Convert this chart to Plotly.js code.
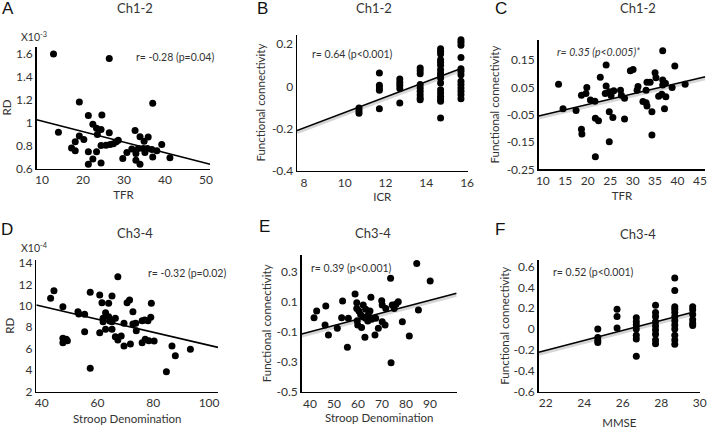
<!DOCTYPE html>
<html><head><meta charset="utf-8">
<script src="https://cdn.plot.ly/plotly-3.0.1.min.js"></script>
<style>html,body{margin:0;padding:0;background:#fff}#chart{width:709px;height:429px}</style>
</head><body><div id="chart"></div>
<script>
// ---------- Panel A : RD (x10^-3) vs TFR ----------
const aTFR = [12.8,26.4,37.0,19.1,14.0,21.3,24.6,22.4,23.3,24.4,23.5,26.4,19.1,20.2,18.1,17.2,18.1,21.3,23.3,22.4,21.3,24.4,24.4,25.6,26.6,27.4,28.1,28.6,29.7,30.7,31.9,32.7,32.9,32.9,33.9,33.9,34.9,35.9,33.5,34.7,35.7,36.8,38.0,39.2,37.0,41.2,35.1];
const aRD  = [1.60,1.56,1.17,1.18,0.916,1.062,1.068,0.986,0.951,0.94,0.898,0.913,0.883,0.854,0.834,0.78,0.755,0.746,0.746,0.682,0.638,0.647,0.80,0.804,0.81,0.817,0.834,0.846,0.688,0.74,0.77,0.933,0.732,0.673,0.878,0.638,0.839,0.875,0.775,0.775,0.775,0.767,0.755,0.81,0.70,0.694,0.74];
const aFitX = [8.7, 51.0];
const aFitY = [1.026, 0.638];
const aXTicks = [10,20,30,40,50];
const aYTicks = [0.6,0.8,1,1.2,1.4,1.6];
const aYTickText = ['0.6','0.8','1','1.2','1.4','1.6'];

// ---------- Panel B : Functional connectivity vs ICR ----------
const bICR = [10.7,10.7,10.7, 11.7,11.7,11.7,11.7,11.7, 12.7,12.7,12.7,12.7,12.7,
  13.7,13.7,13.7,13.7,13.7,13.7,13.7,13.7,13.7,
  14.7,14.7,14.7,14.7,14.7,14.7,14.7,14.7,14.7,14.7,14.7,14.7,14.7,14.7,14.7,14.7,14.7,
  15.7,15.7,15.7,15.7,15.7,15.7,15.7,15.7,15.7,15.7,15.7,15.7,15.7];
const bFC = [-0.103,-0.116,-0.128, 0.063,0.005,-0.008,-0.019,-0.106, 0.035,0.019,0.005,-0.011,-0.079,
  0.087,0.074,0.06,0.008,-0.008,-0.024,-0.04,-0.055,-0.064,
  0.178,0.166,0.153,0.126,0.114,0.1,0.079,0.063,0.052,0.039,0.016,-0.016,-0.032,-0.047,-0.06,-0.071,-0.15,
  0.221,0.209,0.194,0.137,0.083,0.071,0.055,0.024,0.008,-0.008,-0.024,-0.04,-0.059];
const bFitX = [7.66, 15.67];
const bFitY = [-0.21, 0.083];
const bXTicks = [8,10,12,14,16];
const bYTicks = [-0.4,-0.2,0,0.2];
const bYTickText = ['-0.4','-0.2','0','0.2'];

// ---------- Panel C : Functional connectivity vs TFR ----------
const cTFR = [13.5,14.5,17.4,18.6,18.7,18.6,19.8,19.6,20.6,21.6,21.7,22.4,21.7,22.8,24.1,24.1,23.9,24.8,25.2,24.8,24.8,25.6,25.8,27.3,27.5,28.2,28.2,29.5,30.1,31.2,31.0,32.3,33.0,33.2,33.0,33.2,33.9,34.3,34.3,35.0,35.2,36.7,36.7,36.7,35.8,36.5,37.3,37.4,37.1,38.8,39.4,41.7];
const cFC  = [0.062,-0.028,-0.035,-0.103,-0.121,0.021,0.05,0.028,0.004,-0.001,-0.063,-0.072,-0.204,0.087,0.132,0.055,0.028,0.034,0.02,-0.039,-0.149,-0.06,0.038,0.04,0.021,0.01,-0.066,0.111,0.116,0.053,0.04,-0.002,-0.006,-0.018,0.04,0.069,0.069,-0.039,-0.124,0.104,0.085,0.184,0.077,0.059,0.018,0.025,0.065,0.016,-0.028,0.05,0.128,0.062];
const cFitX = [9.08, 46.2];
const cFitY = [-0.055, 0.089];
const cXTicks = [10,15,20,25,30,35,40,45];
const cYTicks = [-0.25,-0.15,-0.05,0.05,0.15];
const cYTickText = ['-0.25','-0.15','-0.05','0.05','0.15'];

// ---------- Panel D : RD (x10^-4) vs Stroop Denomination ----------
const dSD = [43.2,44.4,47.6,47.6,47.6,48.8,49.2,53.0,53.3,55.4,55.4,57.4,57.4,60.8,60.8,61.6,62.0,62.0,62.9,62.9,64.0,64.0,64.4,65.2,65.2,65.2,66.4,66.4,67.3,67.3,68.5,69.5,69.5,70.6,71.5,71.8,72.7,72.7,73.7,73.9,76.0,76.0,76.9,77.1,78.1,78.4,79.1,79.3,80.3,84.7,86.7,87.9,93.3];
const dRD = [10.69,11.4,9.91,6.96,6.55,6.87,6.74,9.44,9.23,9.2,7.58,11.25,4.16,11.0,7.49,10.28,8.83,8.51,9.35,7.8,10.23,8.98,8.58,10.9,8.51,7.8,8.83,7.11,12.7,6.8,7.18,8.36,6.24,10.28,10.54,6.43,9.44,8.3,8.36,7.67,8.6,6.55,8.67,6.87,8.6,6.74,8.92,10.23,6.71,3.85,6.24,5.34,5.94];
const dFitX = [38.07, 103.2];
const dFitY = [10.07, 6.12];
const dXTicks = [40,60,80,100];
const dYTicks = [2,4,6,8,10,12,14];

// ---------- Panel E : Functional connectivity vs Stroop Denomination ----------
const eSD = [41.7,42.8,46.6,46.3,47.7,51.4,53.2,53.6,55.6,56.0,58.8,59.5,59.5,59.7,59.9,60.4,61.1,61.5,62.0,62.2,62.9,63.2,63.2,64.1,64.3,65.0,65.4,65.7,67.1,67.4,68.5,69.9,70.1,70.1,71.3,71.6,73.6,73.8,74.3,75.1,75.9,76.8,78.5,81.4,84.5,85.2,90.1];
const eFC = [-0.005,0.039,0.073,-0.054,-0.121,-0.076,-0.005,0.106,-0.203,-0.009,0.153,0.095,0.057,-0.025,-0.054,0.039,0.017,-0.07,0.001,0.08,-0.136,0.051,-0.009,-0.027,0.013,0.039,0.131,-0.016,-0.121,-0.009,-0.076,0.108,0.08,-0.032,-0.054,0.057,0.258,-0.306,0.08,0.057,0.086,0.102,-0.032,-0.128,0.358,0.046,0.24];
const eFitX = [36.56, 101.1];
const eFitY = [-0.114, 0.158];
const eXTicks = [40,50,60,70,80,90];
const eYTicks = [-0.5,-0.3,-0.1,0.1,0.3];
const eYTickText = ['-0.5','-0.3','-0.1','0.1','0.3'];

// ---------- Panel F : Functional connectivity vs MMSE ----------
const fMMSE = [24.7,24.7,24.7,24.7, 25.7,25.7,25.7, 26.7,26.7,26.7,26.7,26.7,26.7,26.7,
  27.7,27.7,27.7,27.7,27.7,27.7,27.7,27.7,27.7,
  28.7,28.7,28.7,28.7,28.7,28.7,28.7,28.7,28.7,28.7,28.7,28.7,
  29.63,29.63,29.63,29.63,29.63,29.63];
const fFC = [0.0,-0.08,-0.11,-0.13, 0.19,0.12,0.01, 0.11,0.07,0.04,0.0,-0.06,-0.095,-0.26,
  0.23,0.16,0.12,0.07,0.03,-0.01,-0.05,-0.105,-0.14,
  0.49,0.37,0.215,0.19,0.16,0.12,0.08,0.04,0.0,-0.06,-0.105,-0.145,
  0.215,0.185,0.14,0.09,0.055,0.035];
const fFitX = [21.63, 29.63];
const fFitY = [-0.223, 0.162];
const fXTicks = [22,24,26,28,30];
const fYTicks = [-0.6,-0.4,-0.2,0,0.2,0.4,0.6];
const fYTickText = ['-0.6','-0.4','-0.2','0','0.2','0.4','0.6'];

// ---------- layout helpers ----------
const W = 709, H = 429;
const FONT = 'Lato, "Open Sans", sans-serif';
const TXT = '#333333';

const panels = [
  {x:aTFR, y:aRD, fx:aFitX, fy:aFitY, box:[36.7,210.1,46.7,168.5], xr:[8.7,51.0], yr:[0.6,1.664],
   xt:aXTicks, yt:aYTicks, ytt:aYTickText, xtitle:'TFR', ytitle:'RD', shadow:false, xs:4, ys:4},
  {x:bICR, y:bFC, fx:bFitX, fy:bFitY, box:[297,467.5,34.6,170.7], xr:[7.66,16.02], yr:[-0.4,0.245],
   xt:bXTicks, yt:bYTicks, ytt:bYTickText, xtitle:'ICR', ytitle:'Functional connectivity', shadow:true, xs:4, ys:4},
  {x:cTFR, y:cFC, fx:cFitX, fy:cFitY, box:[538.7,705.3,39.9,169.3], xr:[9.08,46.19], yr:[-0.25,0.224],
   xt:cXTicks, yt:cYTicks, ytt:cYTickText, xtitle:'TFR', ytitle:'Functional connectivity', shadow:true, xs:4, ys:4},
  {x:dSD, y:dRD, fx:dFitX, fy:dFitY, box:[36.3,218.3,260,391.5], xr:[38.07,103.3], yr:[2,14.27],
   xt:dXTicks, yt:dYTicks, ytt:null, xtitle:'Stroop Denomination', ytitle:'RD', shadow:false, xs:5, ys:1},
  {x:eSD, y:eFC, fx:eFitX, fy:eFitY, box:[301.7,456.7,255,391.7], xr:[36.56,101.15], yr:[-0.5,0.414],
   xt:eXTicks, yt:eYTicks, ytt:eYTickText, xtitle:'Stroop Denomination', ytitle:'Functional connectivity', shadow:true, xs:3, ys:2},
  {x:fMMSE, y:fFC, fx:fFitX, fy:fFitY, box:[538.7,700,260,391.5], xr:[21.63,30.01], yr:[-0.6,0.664],
   xt:fXTicks, yt:fYTicks, ytt:fYTickText, xtitle:'MMSE', ytitle:'Functional connectivity', shadow:true, xs:10, ys:1}
];

const traces = [];
const layout = {
  width: W, height: H, margin: {l:0, r:0, t:0, b:0}, autosize: false,
  paper_bgcolor: '#ffffff', plot_bgcolor: 'rgba(0,0,0,0)',
  showlegend: false, font: {family: FONT, color: TXT, size: 12},
  annotations: []
};

panels.forEach((p, i) => {
  const n = i === 0 ? '' : String(i + 1);
  const xa = 'x' + n, ya = 'y' + n;
  const [l, r, t, b] = p.box;
  layout['xaxis' + n] = {
    domain: [l / W, r / W], range: p.xr, anchor: ya,
    showline: true, linecolor: '#000', linewidth: 1.5, showgrid: false, zeroline: false,
    ticks: '', tickmode: 'array', tickvals: p.xt, ticklabeloverflow: 'allow',
    tickfont: {family: FONT, size: 12, color: TXT},
    title: {text: p.xtitle, font: {family: FONT, size: 11.5, color: TXT}, standoff: p.xs},
    fixedrange: true, automargin: false
  };
  const yax = {
    domain: [1 - b / H, 1 - t / H], range: p.yr, anchor: xa,
    showline: true, linecolor: '#000', linewidth: 1.5, showgrid: false, zeroline: false,
    ticks: '', tickmode: 'array', tickvals: p.yt, ticklabeloverflow: 'allow',
    tickfont: {family: FONT, size: 12, color: TXT},
    title: {text: p.ytitle, font: {family: FONT, size: 11.5, color: TXT}, standoff: p.ys},
    fixedrange: true, automargin: false
  };
  if (p.ytt) yax.ticktext = p.ytt;
  layout['yaxis' + n] = yax;

  if (p.shadow) {
    const dy = 2 * (p.yr[1] - p.yr[0]) / (b - t);
    traces.push({type: 'scatter', mode: 'lines', x: p.fx, y: p.fy.map(v => v - dy),
      xaxis: xa, yaxis: ya, line: {color: 'rgba(0,0,0,0.16)', width: 3}, hoverinfo: 'skip'});
  }
  traces.push({type: 'scatter', mode: 'markers', x: p.x, y: p.y, xaxis: xa, yaxis: ya,
    marker: {color: '#000', size: 7}, cliponaxis: false});
  traces.push({type: 'scatter', mode: 'lines', x: p.fx, y: p.fy, xaxis: xa, yaxis: ya,
    line: {color: '#000', width: 1.6}});
});

function ann(text, px, py, size, opts) {
  layout.annotations.push(Object.assign({
    text: text, xref: 'paper', yref: 'paper', x: px / W, y: 1 - py / H,
    xanchor: 'center', yanchor: 'middle', showarrow: false,
    font: {family: FONT, size: size, color: TXT}
  }, opts || {}));
}

// panel letters
const letters = [['A',8,8],['B',262,8],['C',501,8],['D',7,229],['E',264,227],['F',500,229]];
letters.forEach(l => ann(l[0], l[1], l[2], 17, {font: {family: '"Liberation Sans", Arial, sans-serif', size: 17, color: '#111'}}));
// subplot titles
const titles = [['Ch1-2',135,8],['Ch1-2',374,8],['Ch1-2',638,8],['Ch3-4',135,233],['Ch3-4',373,233],['Ch3-4',638,234]];
titles.forEach(t => ann(t[0], t[1], t[2], 13));
// correlation labels
ann('r= -0.28 (p=0.04)', 175, 57, 10.5);
ann('r= 0.64 (p<0.001)', 352.5, 54, 10.5);
ann('<i>r= 0.35 (p<0.005)*</i>', 598, 52, 10.5);
ann('r= -0.32 (p=0.02)', 186.7, 273, 10.5);
ann('r= 0.39 (p<0.001)', 351.7, 268, 10.5);
ann('r= 0.52 (p<0.001)', 593, 272, 10.5);
// scale multipliers
ann('X10<sup>-3</sup>', 34, 37, 10.5);
ann('X10<sup>-4</sup>', 34, 247, 10.5);

Plotly.newPlot('chart', traces, layout, {staticPlot: true, displayModeBar: false});
</script>
</body></html>
